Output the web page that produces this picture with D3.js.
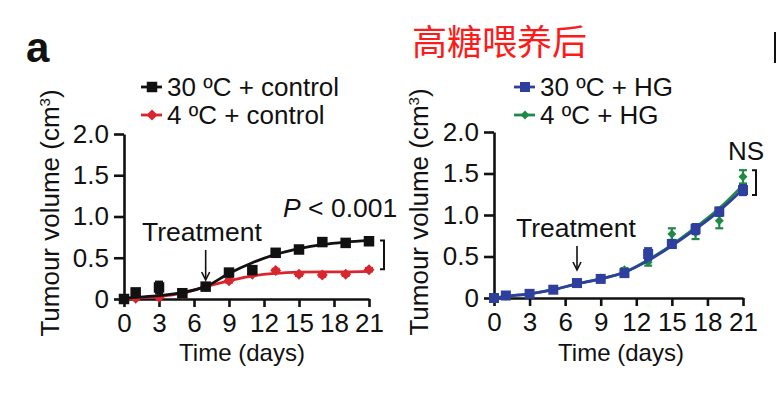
<!DOCTYPE html>
<html lang="en">
<head>
<meta charset="utf-8">
<script src="https://d3js.org/d3.v7.min.js"></script>
<style>
  body { margin: 0; background: #fff; }
  text { font-family: "Liberation Sans", Arial, sans-serif; fill: #111; }
</style>
</head>
<body>
<script>
// ---- data ----
const days = [0, 1, 3, 5, 7, 9, 11, 13, 15, 17, 19, 21];
const xTicks = [0, 3, 6, 9, 12, 15, 18, 21];
const yTicks = [0, 0.5, 1.0, 1.5, 2.0];

// panel a, left: control diet
const ctrl30 = [0, 0.08, 0.14, 0.07, 0.15, 0.32, 0.35, 0.56, 0.60, 0.69, 0.68, 0.70];
const ctrl30Err = [0.01, 0.02, 0.07, 0.02, 0.02, 0.03, 0.03, 0.02, 0.02, 0.02, 0.02, 0.03];
const ctrl30Fit = [0.01, 0.02, 0.04, 0.08, 0.15, 0.31, 0.44, 0.54, 0.61, 0.66, 0.69, 0.71];
const ctrl4 = [0, 0.01, 0.02, 0.06, 0.15, 0.22, 0.30, 0.345, 0.30, 0.29, 0.30, 0.355];
const ctrl4Err = [0.01, 0.01, 0.01, 0.01, 0.01, 0.02, 0.02, 0.02, 0.02, 0.02, 0.02, 0.02];
const ctrl4Fit = [0, 0.01, 0.03, 0.07, 0.15, 0.22, 0.28, 0.31, 0.325, 0.33, 0.33, 0.335];

// panel a, right: high glucose (HG)
const hg30 = [0, 0.03, 0.05, 0.10, 0.18, 0.23, 0.30, 0.53, 0.65, 0.83, 1.04, 1.30];
const hg30Err = [0.01, 0.01, 0.01, 0.01, 0.02, 0.02, 0.03, 0.07, 0.04, 0.06, 0.05, 0.06];
const hg30Fit = [0, 0.02, 0.05, 0.10, 0.17, 0.23, 0.31, 0.45, 0.63, 0.83, 1.05, 1.31];
const hg4 = [0, 0.02, 0.05, 0.10, 0.18, 0.24, 0.34, 0.43, 0.77, 0.79, 0.93, 1.46];
const hg4Err = [0.01, 0.01, 0.01, 0.01, 0.02, 0.02, 0.02, 0.04, 0.07, 0.08, 0.09, 0.08];
const hg4Fit = [0, 0.02, 0.05, 0.10, 0.17, 0.23, 0.31, 0.46, 0.64, 0.85, 1.08, 1.36];

const legendLeft = ["30 \u00baC + control", "4 \u00baC + control"];
const legendRight = ["30 \u00baC + HG", "4 \u00baC + HG"];

// ---- drawing ----
const svg = d3.select("body").append("svg")
    .attr("width", 776)
    .attr("height", 398);

// panel letter, title, and the edge of the next panel's letter
svg.append("text").attr("x", 26).attr("y", 62)
    .style("font-size", "42px").style("font-weight", "bold").text("a");
svg.append("rect").attr("x", 774).attr("y", 32).attr("width", 3).attr("height", 31).attr("fill", "#111");
svg.append("text").attr("x", 412).attr("y", 55)
    .style("font-family", "'Noto Sans CJK SC', sans-serif")
    .style("font-size", "35px").style("fill", "#ff1a1a")
    .text("高糖喂养后");

function marker(sel, shape, size, color) {
    if (shape === "square") {
        sel.append("rect")
            .attr("x", -size / 2).attr("y", -size / 2)
            .attr("width", size).attr("height", size)
            .attr("fill", color);
    } else {
        const s = size / 2;
        sel.append("path")
            .attr("d", `M0,${-s}L${s},0L0,${s}L${-s},0Z`)
            .attr("fill", color);
    }
}

function drawPanel(o) {
    const g = svg.append("g");
    const x = d3.scaleLinear().domain([0, 21]).range([o.x0, o.x1]);
    const y = d3.scaleLinear().domain([0, 2]).range([o.y0, o.y1]);

    // axes
    const xa = g.append("g")
        .attr("transform", `translate(0,${o.y0})`)
        .call(d3.axisBottom(x).tickValues(xTicks).tickSize(8).tickSizeOuter(0).tickPadding(7));
    const ya = g.append("g")
        .attr("transform", `translate(${o.x0},0)`)
        .call(d3.axisLeft(y).tickValues(yTicks).tickSize(10).tickSizeOuter(0).tickPadding(5)
            .tickFormat(d => d === 0 ? "0" : d.toFixed(1)));
    [xa, ya].forEach(a => {
        a.selectAll("path,line").attr("stroke", "#111").attr("stroke-width", 2.6);
        a.selectAll("text").style("font-size", "26px").attr("fill", "#111")
            .style("font-family", "'Liberation Sans', Arial, sans-serif");
    });

    // axis titles
    g.append("text")
        .attr("transform", `translate(${o.yLabX},${o.yLabY}) rotate(-90)`)
        .attr("text-anchor", "middle").style("font-size", "26px")
        .html("Tumour volume (cm<tspan dy='-9' style='font-size:15px'>3</tspan><tspan dy='9'>)</tspan>");
    g.append("text")
        .attr("x", o.xLabX).attr("y", 361)
        .attr("text-anchor", "middle").style("font-size", "24px")
        .text("Time (days)");

    // series
    o.series.forEach(s => {
        g.append("path")
            .datum(s.fit)
            .attr("fill", "none").attr("stroke", s.color).attr("stroke-width", 2.8)
            .attr("d", d3.line()
                .x((d, i) => x(days[i]))
                .y(d => y(d))
                .curve(d3.curveMonotoneX));
        const pts = g.append("g").selectAll("g")
            .data(s.mean)
            .join("g")
            .attr("transform", (d, i) => `translate(${x(days[i])},${y(d)})`);
        pts.append("line")
            .attr("y1", (d, i) => y(d + s.err[i]) - y(d))
            .attr("y2", (d, i) => y(Math.max(0, d - s.err[i])) - y(d))
            .attr("stroke", s.color).attr("stroke-width", 2.2);
        pts.append("line")
            .attr("x1", -4).attr("x2", 4)
            .attr("y1", (d, i) => y(d + s.err[i]) - y(d))
            .attr("y2", (d, i) => y(d + s.err[i]) - y(d))
            .attr("stroke", s.color).attr("stroke-width", 2.2);
        pts.append("line")
            .attr("x1", -4).attr("x2", 4)
            .attr("y1", (d, i) => y(Math.max(0, d - s.err[i])) - y(d))
            .attr("y2", (d, i) => y(Math.max(0, d - s.err[i])) - y(d))
            .attr("stroke", s.color).attr("stroke-width", 2.2);
        pts.each(function () { marker(d3.select(this), s.shape, s.size, s.color); });
    });

    // legend
    o.legend.forEach((name, i) => {
        const s = o.series.find(d => d.name === name);
        const lg = g.append("g").attr("transform", `translate(${o.legX},${87 + i * 28})`);
        lg.append("line").attr("x1", -11).attr("x2", 10)
            .attr("stroke", s.color).attr("stroke-width", 2.8);
        marker(lg, s.shape, s.size, s.color);
        lg.append("text").attr("x", 15).attr("y", 9)
            .style("font-size", "26px").text(name);
    });

    // treatment arrow at day 7
    g.append("text").attr("x", o.treatX).attr("y", o.treatY)
        .style("font-size", "26.5px").text("Treatment");
    const ax = x(7);
    g.append("line").attr("x1", ax).attr("x2", ax)
        .attr("y1", o.arrow[0]).attr("y2", o.arrow[1] - 2)
        .attr("stroke", "#111").attr("stroke-width", 1.6);
    g.append("path")
        .attr("d", `M${ax - 4},${o.arrow[1] - 8}L${ax},${o.arrow[1]}L${ax + 4},${o.arrow[1] - 8}`)
        .attr("fill", "none").attr("stroke", "#111").attr("stroke-width", 1.6);

    // significance bracket
    const bx = x(21) + o.brOff;
    const b0 = y(o.bracket[0]), b1 = y(o.bracket[1]);
    g.append("path")
        .attr("d", `M${bx - 4},${b0}H${bx}V${b1}H${bx - 4}`)
        .attr("fill", "none").attr("stroke", "#111").attr("stroke-width", 2);
    return g;
}

const left = drawPanel({
    x0: 124, x1: 369, y0: 299, y1: 134,
    yLabX: 59, yLabY: 213, xLabX: 242, legX: 152,
    treatX: 142, treatY: 241, arrow: [250, 280],
    brOff: 15, bracket: [0.71, 0.36],
    legend: legendLeft,
    series: [
        { name: legendLeft[1], mean: ctrl4, err: ctrl4Err, fit: ctrl4Fit, color: "#d9262e", shape: "diamond", size: 11 },
        { name: legendLeft[0], mean: ctrl30, err: ctrl30Err, fit: ctrl30Fit, color: "#111", shape: "square", size: 10.5 }
    ]
});
left.append("text").attr("x", 283).attr("y", 217).style("font-size", "26.5px")
    .html("<tspan font-style='italic'>P</tspan> &lt; 0.001");

const right = drawPanel({
    x0: 494, x1: 743, y0: 298, y1: 132,
    yLabX: 428, yLabY: 212, xLabX: 621, legX: 525,
    treatX: 516, treatY: 237, arrow: [246, 270],
    brOff: 13, bracket: [1.54, 1.24],
    legend: legendRight,
    series: [
        { name: legendRight[1], mean: hg4, err: hg4Err, fit: hg4Fit, color: "#1f8a47", shape: "diamond", size: 9 },
        { name: legendRight[0], mean: hg30, err: hg30Err, fit: hg30Fit, color: "#2e3f9e", shape: "square", size: 10 }
    ]
});
right.append("text").attr("x", 728).attr("y", 160).style("font-size", "26px").text("NS");
</script>
</body>
</html>
